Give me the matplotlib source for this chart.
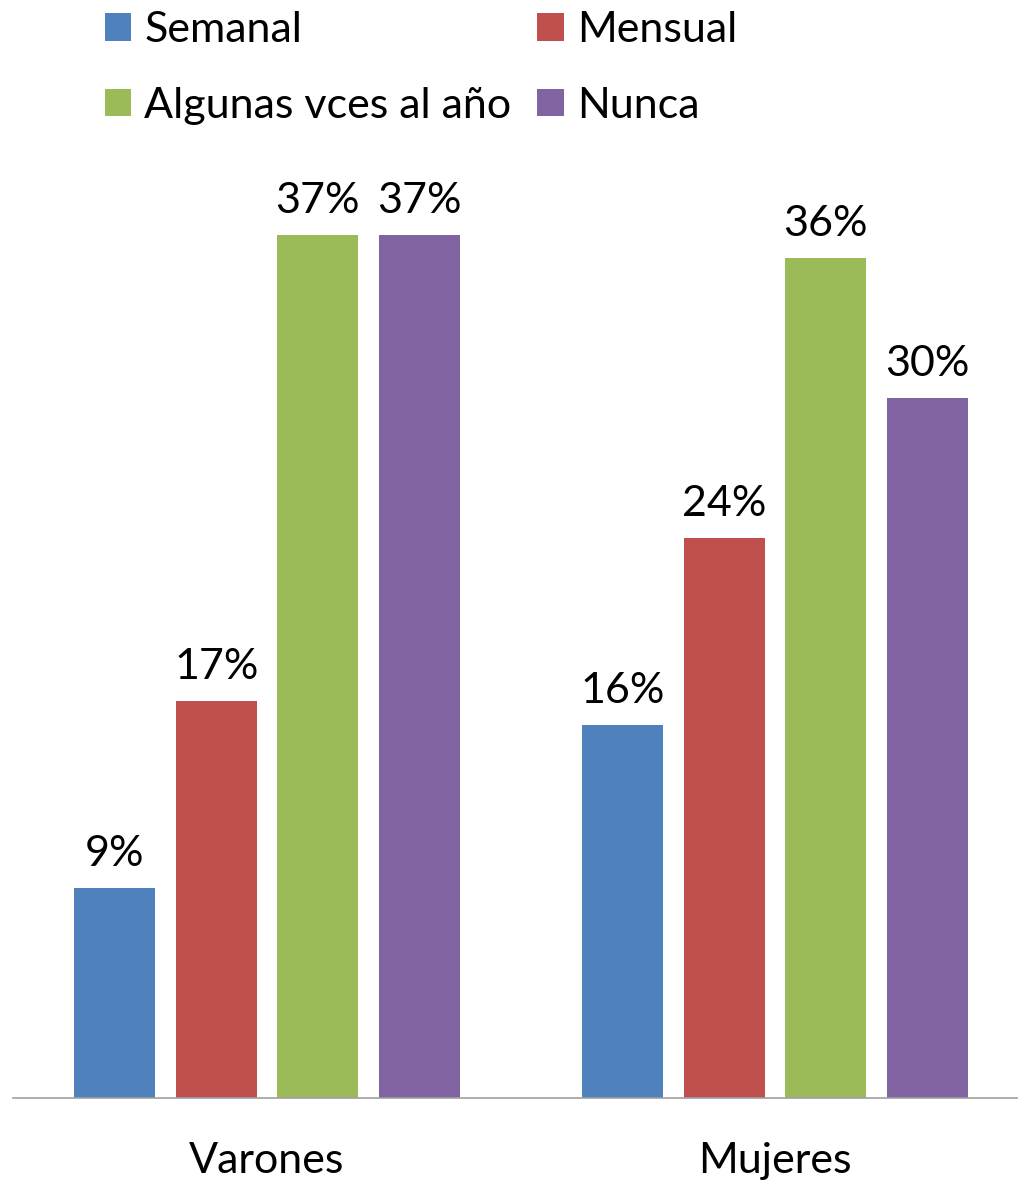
import matplotlib.pyplot as plt
import numpy as np

plt.rcParams['font.family'] = ['Lato', 'DejaVu Sans']

GROUPS = ['Varones', 'Mujeres']
SERIES = ['Semanal', 'Mensual', 'Algunas vces al año', 'Nunca']
VALUES = [
    [0.09, 0.16],   # Semanal
    [0.17, 0.24],   # Mensual
    [0.37, 0.36],   # Algunas vces al año
    [0.37, 0.30],   # Nunca
]
COLORS = ['#4F81BD', '#C0504D', '#9BBB59', '#8064A2']
FS = 31

fig = plt.figure(figsize=(10.18, 11.83), dpi=100)
# axes runs past the right edge a little, like the original
ax = fig.add_axes([13 / 1018, 85 / 1183, 1016 / 1018, 933 / 1183])

x = np.arange(len(GROUPS))
offsets = [-0.3, -0.1, 0.1, 0.3]
for vals, name, col, off in zip(VALUES, SERIES, COLORS, offsets):
    bars = ax.bar(x + off, vals, width=0.16, color=col, label=name)
    ax.bar_label(bars, labels=['%d%%' % round(v * 100) for v in vals],
                 padding=11, fontsize=FS)

ax.set_xlim(-0.5, 1.5)
ax.set_ylim(0, 0.40)
ax.set_yticks([])
ax.set_xticks(x)
ax.set_xticklabels(GROUPS, fontsize=FS)
ax.tick_params(axis='x', length=0, pad=32)
for s in ['top', 'left', 'right']:
    ax.spines[s].set_visible(False)
ax.spines['bottom'].set_color('#A0A0A0')
ax.spines['bottom'].set_linewidth(1.2)

# legend is filled row by row in the original -> reorder for column filling
h, l = ax.get_legend_handles_labels()
order = [0, 2, 1, 3]
fig.legend([h[i] for i in order], [l[i] for i in order],
           loc='upper left', bbox_to_anchor=(66 / 1018, 1 + 28 / 1183), ncol=2,
           frameon=False, fontsize=FS, handlelength=0.62, handleheight=0.62,
           handletextpad=0.3, columnspacing=0.6, labelspacing=0.88)

fig.savefig('out.png', dpi=100)
